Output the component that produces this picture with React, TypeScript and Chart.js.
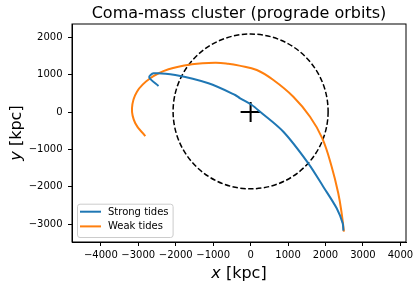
import React, { useEffect, useRef } from "react";
import { Chart, registerables } from "chart.js";

Chart.register(...registerables);

const TITLE = "Coma-mass cluster (prograde orbits)";
const X_LABEL_VAR = "x";
const Y_LABEL_VAR = "y";
const AXIS_UNIT = " [kpc]";
const SERIES_NAMES = ["Strong tides", "Weak tides"];

const xTicks = [-4000, -3000, -2000, -1000, 0, 1000, 2000, 3000, 4000];
const yTicks = [-3000, -2000, -1000, 0, 1000, 2000];
const xRange = [-4770, 4150];
const yRange = [-3476, 2353];

const strongX = [2478, 2459, 2299, 1941, 1541, 875, 253, 32, -280, -413, -1125, -2013, -2592, -2707, -2459];
const strongY = [-3170, -2976, -2575, -1997, -1372, -527, 8, 187, 366, 455, 767, 989, 1035, 928, 695];

const weakX = [2492, 2432, 2341, 2165, 1915, 1587, 1141, 608, 165, -300, -600, -947, -1568, -2192, -2680, -3035, -3168, -3080, -2813];
const weakY = [-3200, -2709, -2174, -1462, -703, -126, 409, 856, 1123, 1240, 1292, 1318, 1275, 1142, 901, 543, 99, -302, -642];

const circleCenter = { x: 0, y: 15 };
const circleRadius = 2070;
const centerMarker = { x: 0, y: 0 };

const BLUE = "#1f77b4";
const ORANGE = "#ff7f0e";
const FONT = "'DejaVu Sans', sans-serif";

const fmt = (v: number) => (v < 0 ? "\u2212" + Math.abs(v) : String(v));

export default function App() {
  const ref = useRef<HTMLCanvasElement>(null);
  useEffect(() => {
    document.body.style.margin = "0";
    const canvas = ref.current!;
    const overlay = {
      id: "overlay",
      beforeDatasetsDraw(chart: any) {
        const { ctx, scales } = chart;
        const sx = scales.x, sy = scales.y;
        const cx = sx.getPixelForValue(circleCenter.x);
        const cy = sy.getPixelForValue(circleCenter.y);
        const rx = Math.abs(sx.getPixelForValue(circleCenter.x + circleRadius) - cx);
        const ry = Math.abs(sy.getPixelForValue(circleCenter.y + circleRadius) - cy);
        ctx.save();
        ctx.strokeStyle = "#000";
        ctx.lineWidth = 1.5;
        ctx.setLineDash([5.5, 2.4]);
        ctx.beginPath();
        ctx.ellipse(cx, cy, rx, ry, 0, 0, Math.PI * 2);
        ctx.stroke();
        ctx.restore();
      },
      afterDraw(chart: any) {
        const { ctx, chartArea: a } = chart;
        ctx.save();
        ctx.strokeStyle = "#000";
        ctx.lineWidth = 1;
        ctx.strokeRect(a.left, a.top, a.right - a.left, a.bottom - a.top);
        ctx.fillStyle = "#000";
        ctx.font = `16px ${FONT}`;
        ctx.textAlign = "center";
        ctx.textBaseline = "alphabetic";
        const midX = (a.left + a.right) / 2;
        ctx.fillText(TITLE, midX, 17.5);
        const drawLabel = (v: string, x: number, y: number) => {
          ctx.font = `italic 16px ${FONT}`;
          const w1 = ctx.measureText(v).width;
          ctx.font = `16px ${FONT}`;
          const w2 = ctx.measureText(AXIS_UNIT).width;
          const start = x - (w1 + w2) / 2;
          ctx.textAlign = "left";
          ctx.font = `italic 16px ${FONT}`;
          ctx.fillText(v, start, y);
          ctx.font = `16px ${FONT}`;
          ctx.fillText(AXIS_UNIT, start + w1, y);
        };
        drawLabel(X_LABEL_VAR, midX, 278);
        ctx.save();
        ctx.translate(21, (a.top + a.bottom) / 2);
        ctx.rotate(-Math.PI / 2);
        drawLabel(Y_LABEL_VAR, 0, 0);
        ctx.restore();
        const lx = a.left + 5, ly = a.bottom - 5 - 33.3, lw = 95.6, lh = 33.3;
        ctx.fillStyle = "rgba(255,255,255,0.8)";
        ctx.strokeStyle = "#cccccc";
        ctx.lineWidth = 1;
        ctx.beginPath();
        (ctx as any).roundRect(lx + 0.5, ly + 0.5, lw, lh, 2.5);
        ctx.fill();
        ctx.stroke();
        const colors = [BLUE, ORANGE];
        ctx.font = `10px ${FONT}`;
        ctx.textBaseline = "middle";
        ctx.textAlign = "left";
        SERIES_NAMES.forEach((name, i) => {
          const yy = ly + 8 + i * 14.7;
          ctx.strokeStyle = colors[i];
          ctx.lineWidth = 2;
          ctx.beginPath();
          ctx.moveTo(lx + 3, yy);
          ctx.lineTo(lx + 24, yy);
          ctx.stroke();
          ctx.fillStyle = "#000";
          ctx.fillText(name, lx + 31, yy + 0.5);
        });
        ctx.restore();
      },
    };

    const chart = new Chart(canvas, {
      type: "scatter",
      data: {
        datasets: [
          {
            label: SERIES_NAMES[0],
            data: strongX.map((x, i) => ({ x, y: strongY[i] })),
            showLine: true,
            borderColor: BLUE,
            borderWidth: 2,
            pointRadius: 0,
            tension: 0.3,
            fill: false,
          },
          {
            label: SERIES_NAMES[1],
            data: weakX.map((x, i) => ({ x, y: weakY[i] })),
            showLine: true,
            borderColor: ORANGE,
            borderWidth: 2,
            pointRadius: 0,
            tension: 0.4,
            fill: false,
          },
          {
            label: "center",
            data: [centerMarker],
            pointStyle: "cross",
            pointRadius: 10,
            pointBorderWidth: 2,
            borderColor: "#000",
            backgroundColor: "#000",
            showLine: false,
          } as any,
        ],
      },
      options: {
        animation: false,
        responsive: false,
        layout: { padding: { top: 24, left: 0, right: 14, bottom: 0 } },
        plugins: { legend: { display: false }, tooltip: { enabled: false }, title: { display: false } },
        scales: {
          x: {
            type: "linear",
            min: xRange[0],
            max: xRange[1],
            afterBuildTicks: (s: any) => { s.ticks = xTicks.map((v) => ({ value: v })); },
            afterFit: (s: any) => { s.height = 47; },
            ticks: { callback: (v: any) => fmt(Number(v)), color: "#000", font: { family: FONT, size: 10 }, padding: 3, autoSkip: false, maxRotation: 0 },
            grid: { drawOnChartArea: false, drawTicks: true, tickLength: 4, color: "#000" },
            border: { display: true, color: "#000" },
          },
          y: {
            type: "linear",
            min: yRange[0],
            max: yRange[1],
            afterBuildTicks: (s: any) => { s.ticks = yTicks.map((v) => ({ value: v })); },
            afterFit: (s: any) => { s.width = 72; },
            ticks: { callback: (v: any) => fmt(Number(v)), color: "#000", font: { family: FONT, size: 10 }, padding: 5.5, autoSkip: false },
            grid: { drawOnChartArea: false, drawTicks: true, tickLength: 4, color: "#000" },
            border: { display: true, color: "#000" },
          },
        },
      },
      plugins: [overlay],
    });
    return () => chart.destroy();
  }, []);
  return <canvas ref={ref} width={420} height={289} style={{ display: "block" }} />;
}
